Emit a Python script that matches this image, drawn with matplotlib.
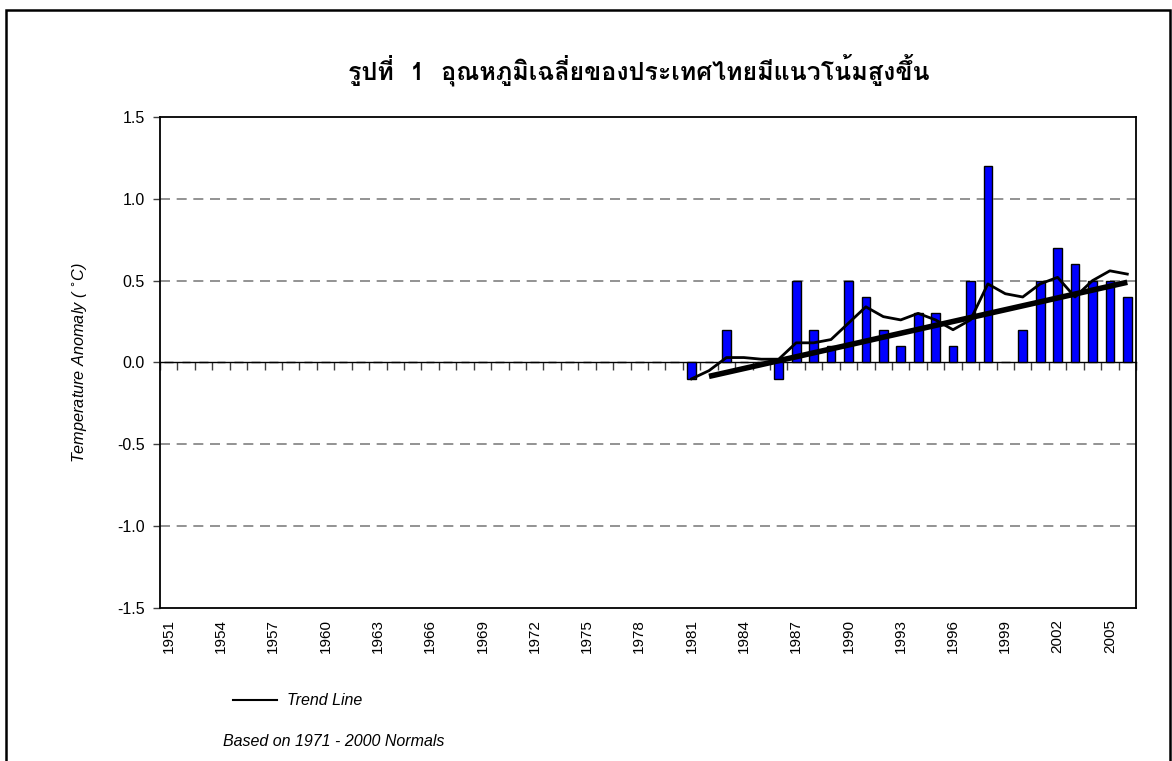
import matplotlib; matplotlib.use('Agg')
import matplotlib.pyplot as plt
from matplotlib import font_manager
from matplotlib.patches import Rectangle
import numpy as np

# ---- data --------------------------------------------------------------------
years = list(range(1951, 2007))
anomaly = [0.0] * 30 + [
    -0.1, 0.0, 0.2, 0.0, 0.0, -0.1, 0.5, 0.2, 0.1, 0.5,   # 1981-1990
    0.4, 0.2, 0.1, 0.3, 0.3, 0.1, 0.5, 1.2, 0.0, 0.2,      # 1991-2000
    0.5, 0.7, 0.6, 0.5, 0.5, 0.4,                          # 2001-2006
]
smooth_years = list(range(1981, 2007))
smooth_vals = [
    -0.10, -0.05, 0.03, 0.03, 0.02, 0.02, 0.12, 0.12, 0.14, 0.24,
    0.34, 0.28, 0.26, 0.30, 0.26, 0.20, 0.26, 0.48, 0.42, 0.40,
    0.48, 0.52, 0.40, 0.50, 0.56, 0.54,
]
trend_years = [1982, 2006]
trend_vals = [-0.085, 0.49]
label_years = years[::3]
ytick_vals = [-1.5, -1.0, -0.5, 0.0, 0.5, 1.0, 1.5]

TITLE = 'รูปที่  1  อุณหภูมิเฉลี่ยของประเทศไทยมีแนวโน้มสูงขึ้น'


def thai_font():
    """Find an installed font that has Thai glyphs."""
    try:
        from fontTools.ttLib import TTFont
    except ImportError:
        return None
    best = None
    for f in font_manager.fontManager.ttflist:
        try:
            tt = TTFont(f.fname, fontNumber=0, lazy=True)
            cmap = tt.getBestCmap()
        except Exception:
            continue
        if cmap and 0x0E23 in cmap and 0x0E39 in cmap:
            if f.weight in ('bold', 700) or 'Bold' in f.fname:
                return f.name
            best = best or f.name
    return best


plt.rcParams.update({
    'font.family': ['Liberation Sans', 'DejaVu Sans'],
    'font.size': 11,
})
BLUE = '#0000ff'
GRID = '#808080'

fig = plt.figure(figsize=(11.72, 7.61), dpi=100)
ax = fig.add_axes([0.1365, 0.2011, 0.8328, 0.6452])

ax.bar(years, anomaly, width=0.5, color=BLUE, edgecolor='black', linewidth=1.0, zorder=3)
ax.plot(smooth_years, smooth_vals, color='black', lw=2.0, zorder=4)
ax.plot(trend_years, trend_vals, color='black', lw=4.0, zorder=5, solid_capstyle='butt')

ax.set_xlim(years[0] - 0.5, years[-1] + 0.5)
ax.set_ylim(-1.5, 1.5)
ax.set_yticks(ytick_vals)
ax.set_yticklabels([f'{v:.1f}' for v in ytick_vals], fontsize=11.5)
for v in ytick_vals[1:-1]:
    if v != 0:
        ax.axhline(v, color=GRID, lw=1.2, ls=(0, (6, 4)), zorder=1)
ax.tick_params(axis='y', direction='out', length=5, width=1, color='#404040', pad=6)

# category axis crossing at zero, ticks between categories
ax.spines['bottom'].set_position(('data', 0))
ax.spines['bottom'].set_linewidth(1.0)
ax.set_xticks(np.arange(years[0] - 0.5, years[-1] + 1))
ax.set_xticklabels([])
ax.tick_params(axis='x', direction='out', length=6, width=1, color='#404040')
for s in ('top', 'right', 'left'):
    ax.spines[s].set_linewidth(1.3)

# year labels along the bottom frame
sec = ax.secondary_xaxis(0)
sec.set_xticks(label_years)
sec.set_xticklabels([str(y) for y in label_years], rotation=90, fontsize=11)
sec.tick_params(axis='x', length=0, pad=8)
sec.spines['bottom'].set_linewidth(1.3)

ax.set_ylabel('Temperature Anomaly ( $^{\\circ}$C)', style='italic', fontsize=11.7, labelpad=20)

tf = thai_font()
fam = [tf, 'DejaVu Sans'] if tf else ['DejaVu Sans']
fig.text(0.545, 0.908, TITLE, ha='center', va='center', fontsize=18,
         fontweight='bold', family=fam)

# legend-like note and footnote
fig.lines.append(plt.Line2D([233 / 1172, 277 / 1172], [0.080, 0.080], transform=fig.transFigure,
                            color='black', lw=1.5))
fig.text(287 / 1172, 0.080, 'Trend Line', style='italic', fontsize=11.5, va='center')
fig.text(223 / 1172, 0.025, 'Based on 1971 - 2000 Normals', style='italic', fontsize=11.5, va='center')

# outer border
fig.patches.append(Rectangle((6 / 1172, -0.05), 1170 / 1172 - 6 / 1172, 1.05 - 10 / 761,
                             transform=fig.transFigure, fill=False, edgecolor='black', lw=1.8))

fig.savefig('out.png', dpi=100)
plt.close(fig)
